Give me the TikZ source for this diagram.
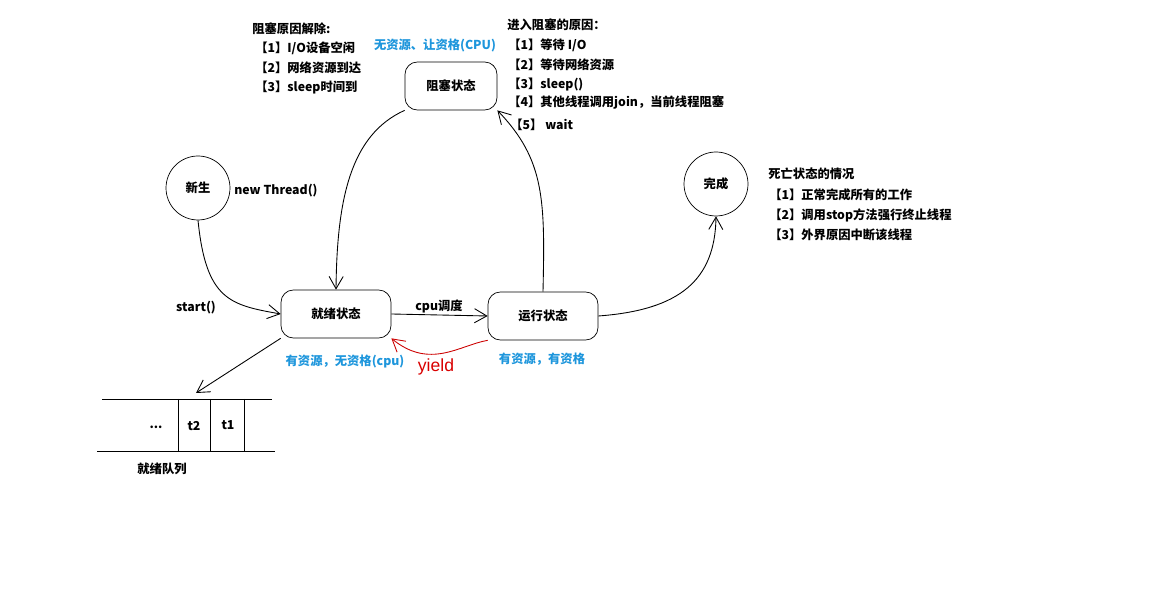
\documentclass[tikz,border=0pt]{standalone}
\usepackage{fontspec}
\setmainfont{Liberation Sans}
\newfontfamily\cjk{Noto Sans CJK SC}
\usetikzlibrary{arrows.meta}
\begin{document}
\begin{tikzpicture}[x=0.02cm,y=-0.02cm,
  every node/.style={font=\cjk\bfseries\fontsize{7}{9}\selectfont},
  state/.style={draw,rounded corners=7pt,minimum width=2.2cm,minimum height=0.96cm},
  circ/.style={draw,circle,minimum size=1.28cm},
  conn/.style={-{Straight Barb[length=7pt,width=8pt]},line width=0.5pt},
  lbl/.style={anchor=west,inner sep=0pt},
  blue/.style={text={rgb,255:red,30;green,150;blue,220}}]
\useasboundingbox (0,0) rectangle (1163,590);
\node[state,minimum width=1.84cm] (blk) at (451,86) {阻塞状态};
\node[state] (rdy) at (336,314) {就绪状态};
\node[state] (run) at (543,316) {运行状态};
\node[circ] (new) at (198,188) {新生};
\node[circ] (done) at (716,184) {完成};
% queue
\coordinate (q1) at (102,399); \coordinate (q2) at (272,399);
\coordinate (q3) at (97,451); \coordinate (q4) at (275,451);
\draw (q1) -- (q2); \draw (q3) -- (q4);
\draw (178,399) -- (178,451); \draw (210,399) -- (210,451); \draw (244,399) -- (244,451);
\node (dots) at (156,427) {...};
\node (t2) at (194,426) {t2};
\node (t1) at (228,425) {t1};
\node (ql) at (162,469) {就绪队列};
\coordinate (qa) at (196,393);
% connectors
\draw[conn] (new.south) .. controls (206,300) and (230,305) .. (rdy.west);
\draw[conn] (blk.south west) .. controls (350,135) and (337,200) .. (rdy.north);
\draw[conn] (run.north) .. controls (545,200) and (545,160) .. (blk.south east);
\draw[conn] (rdy.east) -- (run.west);
\draw[conn,red!80!black] (run.south west) .. controls (460,345) and (430,370) .. (rdy.south east);
\draw[conn] (run.east) .. controls (680,310) and (715,280) .. (done.south);
\draw[conn] (rdy.south west) -- (qa);
% labels
\node (st) at (196,308) {start()};
\node (nt) at (276,191) {new Thread()};
\node (cs) at (439,306) {cpu调度};
\node[text=red!85!black,font=\fontsize{10}{12}\selectfont] (yl) at (436,367) {yield};
\node[blue] (b1) at (345,362) {有资源，无资格(cpu)};
\node[blue] (b2) at (542,359) {有资源，有资格};
\node[blue] (b3) at (435,46) {无资源、让资格(CPU)};
\node[lbl] (u0) at (252,29) {阻塞原因解除:};
\node[lbl] (u1) at (255,48) {【1】I/O设备空闲};
\node[lbl] (u2) at (255,68) {【2】网络资源到达};
\node[lbl] (u3) at (255,88) {【3】sleep时间到};
\node[lbl] (r0) at (507,25) {进入阻塞的原因：};
\node[lbl] (r1) at (508,45) {【1】等待 I/O};
\node[lbl] (r2) at (508,65) {【2】等待网络资源};
\node[lbl] (r3) at (508,85) {【3】sleep()};
\node[lbl] (r4) at (508,103) {【4】其他线程调用join，当前线程阻塞};
\node[lbl] (r5) at (510,125) {【5】 wait};
\node[lbl] (d0) at (768,174) {死亡状态的情况};
\node[lbl] (d1) at (769,195) {【1】正常完成所有的工作};
\node[lbl] (d2) at (769,215) {【2】调用stop方法强行终止线程};
\node[lbl] (d3) at (769,235) {【3】外界原因中断该线程};
\end{tikzpicture}
\end{document}
